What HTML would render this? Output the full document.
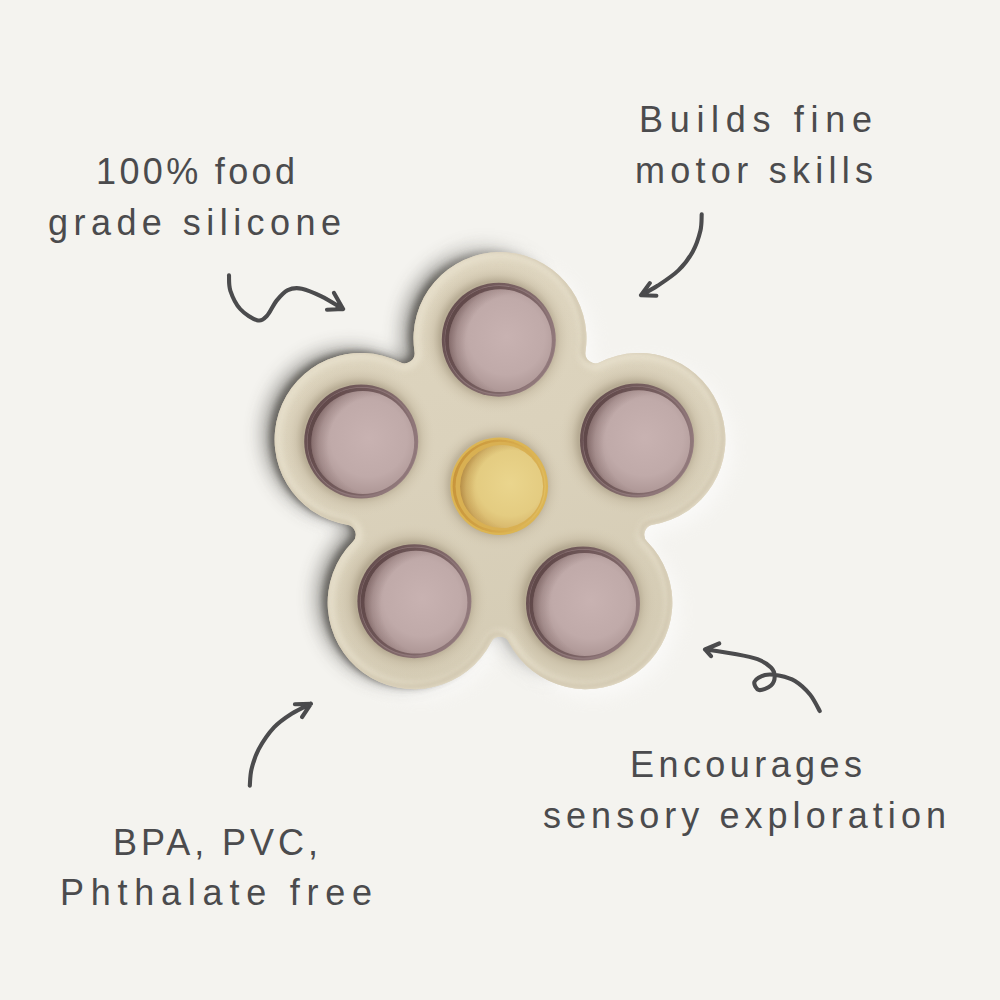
<!DOCTYPE html>
<html><head><meta charset="utf-8"><title>Flower press toy</title>
<style>
html,body{margin:0;padding:0;background:#f4f3ef;}
body{width:1000px;height:1000px;overflow:hidden;font-family:"Liberation Sans",sans-serif;}
svg{display:block}
</style></head><body>
<svg width="1000" height="1000" viewBox="0 0 1000 1000">

<defs>
<filter id="sh" x="-20%" y="-20%" width="140%" height="140%"><feGaussianBlur stdDeviation="5"/></filter>
<filter id="sh2" x="-20%" y="-20%" width="140%" height="140%"><feGaussianBlur stdDeviation="9"/></filter>
<filter id="b4" x="-20%" y="-20%" width="140%" height="140%"><feGaussianBlur stdDeviation="4"/></filter>
<filter id="b3" x="-20%" y="-20%" width="140%" height="140%"><feGaussianBlur stdDeviation="3"/></filter>
<filter id="b2"><feGaussianBlur stdDeviation="2"/></filter>
<filter id="b1"><feGaussianBlur stdDeviation="1"/></filter>
<filter id="b05"><feGaussianBlur stdDeviation="0.6"/></filter>
<linearGradient id="mg" gradientUnits="userSpaceOnUse" x1="430" y1="0" x2="560" y2="0"><stop offset="0" stop-color="#fff"/><stop offset="1" stop-color="#000"/></linearGradient>
<mask id="lm" maskUnits="userSpaceOnUse" x="200" y="180" width="600" height="600"><rect x="200" y="180" width="600" height="600" fill="url(#mg)"/></mask>
<clipPath id="body"><path d="M414.5 351.7A86.5 86.5 0 1 1 585.5 351.7A10 10 0 0 0 599.9 362.2A86.5 86.5 0 1 1 652.7 524.8A10 10 0 0 0 647.2 541.7A86.5 86.5 0 1 1 508.9 642.2A10 10 0 0 0 491.1 642.2A86.5 86.5 0 1 1 352.8 541.7A10 10 0 0 0 347.3 524.8A86.5 86.5 0 1 1 400.1 362.2A10 10 0 0 0 414.5 351.7Z"/></clipPath>
<linearGradient id="bodyg" x1="0" y1="0" x2="0.25" y2="1">
 <stop offset="0" stop-color="#dfd6c0"/><stop offset="0.5" stop-color="#dbd2bc"/><stop offset="1" stop-color="#d5ccb5"/>
</linearGradient>
<radialGradient id="dome" cx="0.56" cy="0.46" r="0.62">
 <stop offset="0" stop-color="#c8b2b1"/><stop offset="0.6" stop-color="#c0aaa9"/><stop offset="0.88" stop-color="#ae9796"/><stop offset="1" stop-color="#9c8483"/>
</radialGradient>
<radialGradient id="ydome" cx="0.6" cy="0.46" r="0.66">
 <stop offset="0" stop-color="#ead58d"/><stop offset="0.6" stop-color="#e4cc81"/><stop offset="0.88" stop-color="#d6b468"/><stop offset="1" stop-color="#c79d50"/>
</radialGradient>
<linearGradient id="ringg" x1="0" y1="0.25" x2="1" y2="0.75"><stop offset="0" stop-color="#644c4d"/><stop offset="0.5" stop-color="#7d6566"/><stop offset="1" stop-color="#9a8184"/></linearGradient>
<linearGradient id="ringi" x1="0" y1="0.3" x2="1" y2="0.7"><stop offset="0" stop-color="#5e4647"/><stop offset="0.6" stop-color="#7a6263"/><stop offset="1" stop-color="#957c7f"/></linearGradient>
<linearGradient id="yring" x1="0" y1="0.4" x2="1" y2="0.6"><stop offset="0" stop-color="#c8953b"/><stop offset="0.6" stop-color="#d6a94a"/><stop offset="1" stop-color="#e0bd62"/></linearGradient>
<radialGradient id="cres" cx="0.64" cy="0.53" r="0.645"><stop offset="0.74" stop-color="#4a2f2f" stop-opacity="0"/><stop offset="0.88" stop-color="#4a2f2f" stop-opacity="0.14"/><stop offset="1" stop-color="#4a2f2f" stop-opacity="0.4"/></radialGradient>
<radialGradient id="ycres" cx="0.64" cy="0.53" r="0.645"><stop offset="0.72" stop-color="#8a5a1a" stop-opacity="0"/><stop offset="0.88" stop-color="#8a5a1a" stop-opacity="0.14"/><stop offset="1" stop-color="#8a5a1a" stop-opacity="0.4"/></radialGradient>
<radialGradient id="recess" cx="0.5" cy="0.5" r="0.5">
 <stop offset="0.75" stop-color="#9a8d74" stop-opacity="0.55"/><stop offset="0.84" stop-color="#ad9f85" stop-opacity="0.24"/><stop offset="0.93" stop-color="#bfb298" stop-opacity="0.08"/><stop offset="1" stop-color="#cdc1a8" stop-opacity="0"/>
</radialGradient>
</defs>

<g filter="url(#sh2)" opacity="0.55"><path d="M414.5 351.7A86.5 86.5 0 1 1 585.5 351.7A10 10 0 0 0 599.9 362.2A86.5 86.5 0 1 1 652.7 524.8A10 10 0 0 0 647.2 541.7A86.5 86.5 0 1 1 508.9 642.2A10 10 0 0 0 491.1 642.2A86.5 86.5 0 1 1 352.8 541.7A10 10 0 0 0 347.3 524.8A86.5 86.5 0 1 1 400.1 362.2A10 10 0 0 0 414.5 351.7Z" fill="#ffffff" transform="translate(7,8)"/></g>
<g mask="url(#lm)"><g filter="url(#sh2)" opacity="0.5"><path d="M414.5 351.7A86.5 86.5 0 1 1 585.5 351.7A10 10 0 0 0 599.9 362.2A86.5 86.5 0 1 1 652.7 524.8A10 10 0 0 0 647.2 541.7A86.5 86.5 0 1 1 508.9 642.2A10 10 0 0 0 491.1 642.2A86.5 86.5 0 1 1 352.8 541.7A10 10 0 0 0 347.3 524.8A86.5 86.5 0 1 1 400.1 362.2A10 10 0 0 0 414.5 351.7Z" fill="#4a4742" transform="translate(-12,-5)"/></g>
<g filter="url(#b3)" opacity="0.62"><path d="M414.5 351.7A86.5 86.5 0 1 1 585.5 351.7A10 10 0 0 0 599.9 362.2A86.5 86.5 0 1 1 652.7 524.8A10 10 0 0 0 647.2 541.7A86.5 86.5 0 1 1 508.9 642.2A10 10 0 0 0 491.1 642.2A86.5 86.5 0 1 1 352.8 541.7A10 10 0 0 0 347.3 524.8A86.5 86.5 0 1 1 400.1 362.2A10 10 0 0 0 414.5 351.7Z" fill="#45423d" transform="translate(-5,-2)"/></g></g>
<path d="M414.5 351.7A86.5 86.5 0 1 1 585.5 351.7A10 10 0 0 0 599.9 362.2A86.5 86.5 0 1 1 652.7 524.8A10 10 0 0 0 647.2 541.7A86.5 86.5 0 1 1 508.9 642.2A10 10 0 0 0 491.1 642.2A86.5 86.5 0 1 1 352.8 541.7A10 10 0 0 0 347.3 524.8A86.5 86.5 0 1 1 400.1 362.2A10 10 0 0 0 414.5 351.7Z" fill="url(#bodyg)"/>
<g clip-path="url(#body)"><path d="M414.5 351.7A86.5 86.5 0 1 1 585.5 351.7A10 10 0 0 0 599.9 362.2A86.5 86.5 0 1 1 652.7 524.8A10 10 0 0 0 647.2 541.7A86.5 86.5 0 1 1 508.9 642.2A10 10 0 0 0 491.1 642.2A86.5 86.5 0 1 1 352.8 541.7A10 10 0 0 0 347.3 524.8A86.5 86.5 0 1 1 400.1 362.2A10 10 0 0 0 414.5 351.7Z" fill="none" stroke="#e8e1cd" stroke-width="14" filter="url(#b3)" opacity="0.85"/>
<path d="M414.5 351.7A86.5 86.5 0 1 1 585.5 351.7A10 10 0 0 0 599.9 362.2A86.5 86.5 0 1 1 652.7 524.8A10 10 0 0 0 647.2 541.7A86.5 86.5 0 1 1 508.9 642.2A10 10 0 0 0 491.1 642.2A86.5 86.5 0 1 1 352.8 541.7A10 10 0 0 0 347.3 524.8A86.5 86.5 0 1 1 400.1 362.2A10 10 0 0 0 414.5 351.7Z" fill="none" stroke="#bfb399" stroke-width="4" filter="url(#b2)" opacity="0.6" transform="translate(-2.5,-2.5)"/></g>
<circle cx="496.8" cy="338.2" r="76" fill="url(#recess)"/>
<circle cx="635" cy="439.1" r="76" fill="url(#recess)"/>
<circle cx="581" cy="602" r="76" fill="url(#recess)"/>
<circle cx="412.4" cy="599.7" r="76" fill="url(#recess)"/>
<circle cx="359.2" cy="440" r="76" fill="url(#recess)"/>
<circle cx="498.8" cy="339.7" r="57" fill="url(#ringg)"/>
<circle cx="499.7" cy="340.3" r="55" fill="#8f7779"/>
<circle cx="499.1" cy="339.9" r="54" fill="url(#ringi)" filter="url(#b05)"/>
<circle cx="500.4" cy="340.7" r="51.4" fill="url(#dome)"/>
<circle cx="500.4" cy="340.7" r="51.4" fill="url(#cres)"/>
<circle cx="637" cy="440.6" r="57" fill="url(#ringg)"/>
<circle cx="637.9" cy="441.2" r="55" fill="#8f7779"/>
<circle cx="637.3" cy="440.8" r="54" fill="url(#ringi)" filter="url(#b05)"/>
<circle cx="638.6" cy="441.6" r="51.4" fill="url(#dome)"/>
<circle cx="638.6" cy="441.6" r="51.4" fill="url(#cres)"/>
<circle cx="583" cy="603.5" r="57" fill="url(#ringg)"/>
<circle cx="583.9" cy="604.1" r="55" fill="#8f7779"/>
<circle cx="583.3" cy="603.7" r="54" fill="url(#ringi)" filter="url(#b05)"/>
<circle cx="584.6" cy="604.5" r="51.4" fill="url(#dome)"/>
<circle cx="584.6" cy="604.5" r="51.4" fill="url(#cres)"/>
<circle cx="414.4" cy="601.2" r="57" fill="url(#ringg)"/>
<circle cx="415.3" cy="601.8" r="55" fill="#8f7779"/>
<circle cx="414.7" cy="601.4" r="54" fill="url(#ringi)" filter="url(#b05)"/>
<circle cx="416" cy="602.2" r="51.4" fill="url(#dome)"/>
<circle cx="416" cy="602.2" r="51.4" fill="url(#cres)"/>
<circle cx="361.2" cy="441.5" r="57" fill="url(#ringg)"/>
<circle cx="362.1" cy="442.1" r="55" fill="#8f7779"/>
<circle cx="361.5" cy="441.7" r="54" fill="url(#ringi)" filter="url(#b05)"/>
<circle cx="362.8" cy="442.5" r="51.4" fill="url(#dome)"/>
<circle cx="362.8" cy="442.5" r="51.4" fill="url(#cres)"/>
<circle cx="497.7" cy="485.2" r="65" fill="url(#recess)" opacity="0.8"/>
<circle cx="499.2" cy="486.2" r="48.8" fill="#dcb553"/>
<circle cx="499.2" cy="486.2" r="46.6" fill="url(#yring)" filter="url(#b05)"/>
<circle cx="500" cy="486.2" r="44.5" fill="#d9b052"/>
<circle cx="501.6" cy="486.5" r="41.5" fill="url(#ydome)"/>
<circle cx="501.6" cy="486.5" r="41.5" fill="url(#ycres)"/>
<filter id="tb" x="0" y="0" width="1000" height="1000" filterUnits="userSpaceOnUse"><feGaussianBlur stdDeviation="0.45"/></filter><g filter="url(#tb)"><path fill="none" stroke="#4b4b4d" stroke-width="4.1" stroke-linecap="round" stroke-linejoin="round" d="M229 275.4C229.2 278 228.5 285.2 230.4 290.8C232.3 296.4 235.8 304.1 240.2 309C244.6 313.9 252.6 319 257 320.2C261.4 321.4 263.5 319.3 266.8 316C270.1 312.7 273.1 304.9 276.6 300.6C280.1 296.3 283.6 292.1 287.8 290.1C292 288.1 296.2 287.6 301.8 288.7C307.4 289.8 314.5 293 321.4 296.4C328.3 299.8 339.5 306.9 343.1 309M334 292.9L343.1 309M343.1 309L327 309.7M701.7 214.3C701.5 217.1 701.9 224.6 700.4 230.8C698.9 237 696.4 245.1 692.7 251.7C689 258.3 684.3 264.7 678.4 270.4C672.5 276.1 663.7 281.7 657.5 285.8C651.3 289.9 643.8 293.6 641 295.2M649.8 283.1L641 295.2M641 295.2L656.4 295.7M249.8 785.7C250.1 783 250 775.2 251.5 769.2C253 763.2 254.9 756.4 258.6 749.4C262.4 742.4 268.5 733.3 274 727.4C279.5 721.5 285.5 717.6 291.6 713.7C297.8 709.8 307.7 705.4 310.9 703.8M294.9 704.3L310.9 703.8M310.9 703.8L302.1 717M819.7 711C818.1 708.2 814.1 699.5 810 694.5C805.9 689.5 800 684.1 795 681C790 677.9 785 676.7 780 675.7C775 674.7 769.2 674 765 675C760.8 676 755.5 679.2 754.5 681.7C753.5 684.2 756.2 689.4 759 690C761.8 690.6 768.4 687.8 771 685.5C773.6 683.2 774.7 679.5 774.7 676.5C774.7 673.5 773.9 670.4 771 667.5C768.1 664.6 763.5 661.5 757.5 659.2C751.5 657 743.6 655.6 735 654C726.4 652.4 710.6 650.2 705.7 649.5M719.2 643.5L705 649.5M705 649.5L711 656.2"/><path fill="#4b4b4d" stroke="#4b4b4d" stroke-width="1.2" stroke-linejoin="round" d="M343.1 309L338.7 301.3L335.4 309.3ZM641 295.2L645.2 289.4L648.4 295.4ZM310.9 703.8L303.2 704L306.7 710.1ZM705 649.5L713.5 645.9L708.6 653.5Z"/></g><g font-family="Liberation Sans, sans-serif" font-size="36" fill="#4b4b4d"><text x="96" y="184" textLength="199" lengthAdjust="spacing">100% food</text><text x="48" y="235" textLength="293" lengthAdjust="spacing">grade silicone</text><text x="639" y="132" textLength="233" lengthAdjust="spacing">Builds fine</text><text x="635" y="183" textLength="238" lengthAdjust="spacing">motor skills</text><text x="113" y="855" textLength="205" lengthAdjust="spacing">BPA, PVC,</text><text x="60" y="905" textLength="312" lengthAdjust="spacing">Phthalate free</text><text x="630" y="777" textLength="232" lengthAdjust="spacing">Encourages</text><text x="543" y="828" textLength="403" lengthAdjust="spacing">sensory exploration</text></g>
</svg>
</body></html>
